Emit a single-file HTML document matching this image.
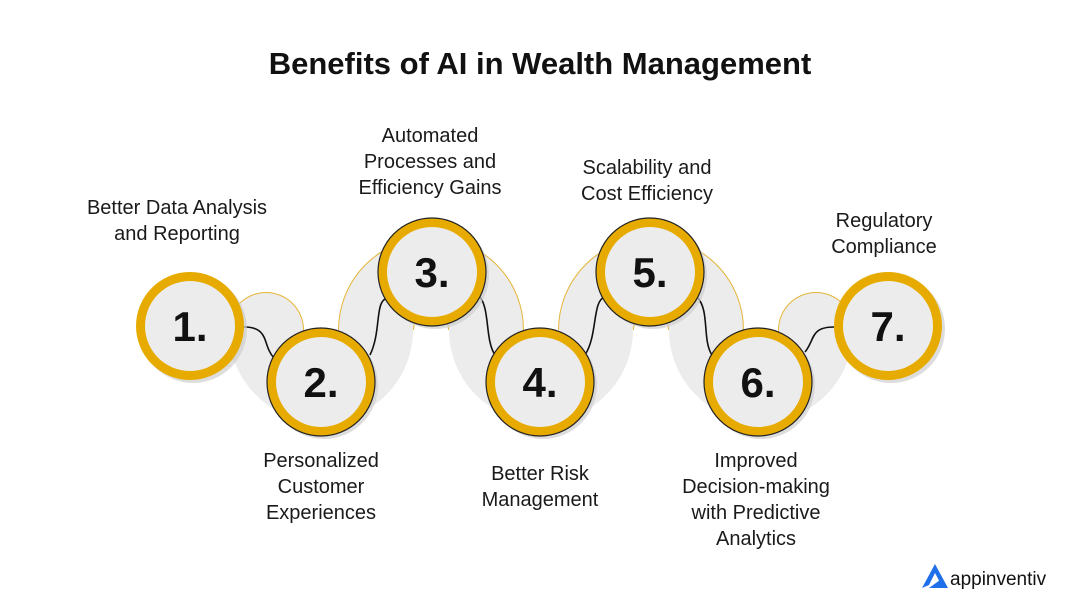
<!DOCTYPE html>
<html><head><meta charset="utf-8"><style>
html,body{margin:0;padding:0;background:#fff;}
svg{display:block}
text{font-family:"Liberation Sans",sans-serif;}
</style></head><body>
<svg width="1080" height="616" viewBox="0 0 1080 616" xmlns="http://www.w3.org/2000/svg">
<rect width="1080" height="616" fill="#fff"/>
<text x="540" y="74" text-anchor="middle" font-size="31" font-weight="bold" fill="#111">Benefits of AI in Wealth Management</text>
<!-- gold edges for up arcs and caps -->
<g fill="none" stroke="#e5b53a" stroke-width="76">
  <path d="M266,340 L266,330" stroke-linecap="round"/>
  <path d="M816,340 L816,330" stroke-linecap="round"/>
  <path d="M376,330 A55,55 0 0 1 486,330"/>
  <path d="M596,330 A55,55 0 0 1 706,330"/>
</g>
<path d="M266,330 A55,55 0 0 0 376,330 A55,55 0 0 1 486,330 A55,55 0 0 0 596,330 A55,55 0 0 1 706,330 A55,55 0 0 0 816,330" fill="none" stroke="#ececec" stroke-width="74"/>
<g fill="none" stroke="#ececec" stroke-width="74" stroke-linecap="round">
  <path d="M266,340 L266,330"/>
  <path d="M816,340 L816,330"/>
</g>
<g fill="none" stroke="#111" stroke-width="1.6">
  <path d="M244 327 C270 327 262 345 274 358"/>
  <path d="M370 355 C382 330 374 300 388 298"/>
  <path d="M480 297 C490 310 485 340 495 355"/>
  <path d="M585 355 C598 335 592 300 605 297"/>
  <path d="M697 297 C710 310 702 340 712 355"/>
  <path d="M805 352 C815 340 810 327 834 327"/>
</g>
<g fill="#cfcfcf" opacity="0.7">
  <circle cx="193" cy="329" r="54"/><circle cx="324" cy="385" r="54"/><circle cx="435" cy="275" r="54"/>
  <circle cx="543" cy="385" r="54"/><circle cx="653" cy="275" r="54"/><circle cx="761" cy="385" r="54"/><circle cx="891" cy="329" r="54"/>
</g>
<g>
  <g transform="translate(190,326)"><circle r="54" fill="#e7ab00"/><circle r="45" fill="#ececec"/><text y="15" text-anchor="middle" font-size="42" font-weight="bold" fill="#111">1.</text></g>
  <g transform="translate(321,382)"><circle r="54" fill="#e7ab00" stroke="#222" stroke-width="1.2"/><circle r="45" fill="#ececec"/><text y="15" text-anchor="middle" font-size="42" font-weight="bold" fill="#111">2.</text></g>
  <g transform="translate(432,272)"><circle r="54" fill="#e7ab00" stroke="#222" stroke-width="1.2"/><circle r="45" fill="#ececec"/><text y="15" text-anchor="middle" font-size="42" font-weight="bold" fill="#111">3.</text></g>
  <g transform="translate(540,382)"><circle r="54" fill="#e7ab00" stroke="#222" stroke-width="1.2"/><circle r="45" fill="#ececec"/><text y="15" text-anchor="middle" font-size="42" font-weight="bold" fill="#111">4.</text></g>
  <g transform="translate(650,272)"><circle r="54" fill="#e7ab00" stroke="#222" stroke-width="1.2"/><circle r="45" fill="#ececec"/><text y="15" text-anchor="middle" font-size="42" font-weight="bold" fill="#111">5.</text></g>
  <g transform="translate(758,382)"><circle r="54" fill="#e7ab00" stroke="#222" stroke-width="1.2"/><circle r="45" fill="#ececec"/><text y="15" text-anchor="middle" font-size="42" font-weight="bold" fill="#111">6.</text></g>
  <g transform="translate(888,326)"><circle r="54" fill="#e7ab00"/><circle r="45" fill="#ececec"/><text y="15" text-anchor="middle" font-size="42" font-weight="bold" fill="#111">7.</text></g>
</g>
<g font-size="20" fill="#1a1a1a" text-anchor="middle">
  <text x="177" y="214">Better Data Analysis</text><text x="177" y="240">and Reporting</text>
  <text x="430" y="142">Automated</text><text x="430" y="168">Processes and</text><text x="430" y="194">Efficiency Gains</text>
  <text x="647" y="174">Scalability and</text><text x="647" y="200">Cost Efficiency</text>
  <text x="884" y="227">Regulatory</text><text x="884" y="253">Compliance</text>
  <text x="321" y="467">Personalized</text><text x="321" y="493">Customer</text><text x="321" y="519">Experiences</text>
  <text x="540" y="480">Better Risk</text><text x="540" y="506">Management</text>
  <text x="756" y="467">Improved</text><text x="756" y="493">Decision-making</text><text x="756" y="519">with Predictive</text><text x="756" y="545">Analytics</text>
</g>
<path d="M922 588 L935 564 L948 588 L943 588 L935 573 L929 585 Z" fill="#1f6feb"/>
<path d="M929 588 L940 580 L943 588 Z" fill="#1f6feb"/>
<text x="950" y="585" font-size="19" fill="#111">appinventiv</text>
</svg>
</body></html>
